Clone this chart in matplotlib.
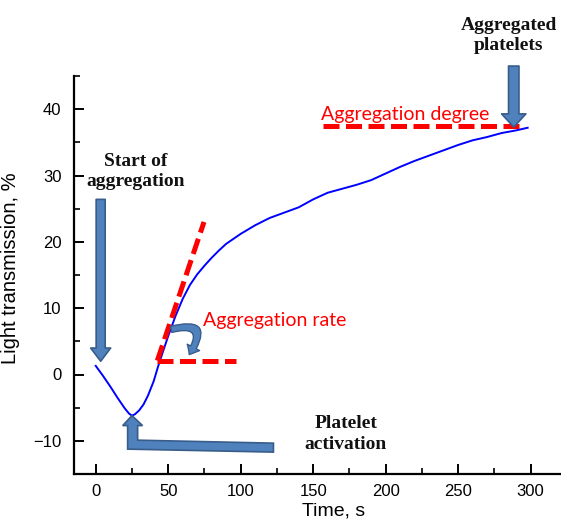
import numpy as np
import matplotlib
matplotlib.use("Agg")
import matplotlib.pyplot as plt
from matplotlib.patches import FancyArrowPatch, Polygon

# Aggregation curve (time in s, light transmission in %)
time_s = [0, 5, 10, 15, 20, 23, 25, 27, 30, 33, 36, 40, 43, 46, 50, 55, 60,
          65, 70, 75, 80, 85, 90, 100, 110, 120, 130, 140, 150, 160, 170,
          180, 190, 200, 210, 220, 230, 240, 250, 260, 270, 280, 290, 298]
transmission = [1.3, -0.2, -1.8, -3.5, -5.1, -5.9, -6.2, -6.0, -5.4, -4.5,
                -3.2, -1.0, 1.2, 3.2, 5.8, 8.8, 11.4, 13.5, 15.1, 16.4, 17.6,
                18.7, 19.7, 21.2, 22.5, 23.6, 24.4, 25.2, 26.4, 27.4, 28.0,
                28.6, 29.3, 30.3, 31.3, 32.2, 33.0, 33.8, 34.6, 35.3, 35.8,
                36.4, 36.8, 37.2]

# Construction lines
rate_origin = (42.5, 2.1)
rate_tangent_end = (74.7, 23.0)
rate_base_end_x = 96.6
degree_level = 37.5
degree_span = (156.8, 292.5)

x_ticks = [0, 50, 100, 150, 200, 250, 300]
y_ticks = [-10, 0, 10, 20, 30, 40]

ARROW_FACE = "#4F81BD"
ARROW_EDGE = "#385D8A"
RED = "#FF0000"

fig = plt.figure(figsize=(5.61, 5.23), dpi=100)
ax = fig.add_axes([74 / 561, 49 / 523, 1 - 74 / 561, 398 / 523])

ax.plot(time_s, transmission, color="#0000FF", lw=1.4, zorder=3,
        solid_joinstyle="round")

ax.set_xlim(-15, 321)
ax.set_ylim(-15, 45)
ax.set_xticks(x_ticks)
ax.set_yticks(y_ticks)
ax.set_xticks(np.arange(25, 321, 50), minor=True)
ax.set_yticks(np.arange(-15, 46, 10), minor=True)
for s in ("top", "right"):
    ax.spines[s].set_visible(False)
for s in ("left", "bottom"):
    ax.spines[s].set_linewidth(1.6)
ax.tick_params(which="major", direction="in", length=7, width=1.4,
               labelsize=12, pad=7)
ax.tick_params(which="minor", direction="in", length=4, width=1.2)
ax.tick_params(axis="y", which="major", pad=9)
for lab in ax.get_xticklabels() + ax.get_yticklabels():
    lab.set_fontfamily("Liberation Sans")

ax.set_xlabel("Time, s", fontsize=14, family="Liberation Sans")
ax.set_ylabel("Light transmission, %", fontsize=14.5, family="Liberation Sans")
ax.xaxis.set_label_coords((334 - 74) / 487, -37 / 398)
ax.xaxis.label.set_va("center")
ax.yaxis.set_label_coords(-54 / 487, (474 - 268) / 398)

# Red dashed construction lines
dash = dict(color=RED, lw=3.6, linestyle=(0, (3.2, 1.3)),
            dash_capstyle="butt", zorder=4)
ax.plot([rate_origin[0], rate_tangent_end[0]],
        [rate_origin[1], rate_tangent_end[1]], **dash)
ax.plot([rate_origin[0], rate_base_end_x],
        [rate_origin[1], rate_origin[1]], **dash)
ax.plot(list(degree_span), [degree_level, degree_level], **dash)

# Straight block arrows
def block_arrow(start, end, tail, head_w, head_l):
    arr = FancyArrowPatch(
        start, end,
        arrowstyle=f"simple,head_length={head_l},head_width={head_w},"
                   f"tail_width={tail}",
        mutation_scale=1, shrinkA=0, shrinkB=0,
        facecolor=ARROW_FACE, edgecolor=ARROW_EDGE, lw=1.2,
        clip_on=False, zorder=5)
    ax.add_patch(arr)

block_arrow((3.4, 26.4), (3.4, 2.0), 6.5, 14.4, 9.5)
block_arrow((288.4, 46.5), (288.4, 37.3), 7.5, 17.5, 9.5)

# Bent arrow pointing to the curve minimum (platelet activation)
i_min = int(np.argmin(transmission))
tx, ty = time_s[i_min], transmission[i_min]
bent = [
    (tx, ty),
    (tx + 7.3, ty - 1.5),
    (tx + 3.9, ty - 1.5),
    (tx + 3.9, ty - 3.7),
    (122.6, ty - 4.15),
    (122.6, ty - 5.5),
    (tx - 3.0, ty - 5.05),
    (tx - 3.0, ty - 1.5),
    (tx - 6.4, ty - 1.5),
]
ax.add_patch(Polygon(bent, closed=True, facecolor=ARROW_FACE,
                     edgecolor=ARROW_EDGE, lw=1.2, zorder=5))

# Curved arrow marking the aggregation-rate angle
curl = FancyArrowPatch(
    (52.0, 6.8), (64.5, 3.0),
    connectionstyle="arc3,rad=-1.25",
    arrowstyle="simple,head_length=6,head_width=10,tail_width=4.5",
    mutation_scale=1, shrinkA=0, shrinkB=0,
    facecolor=ARROW_FACE, edgecolor=ARROW_EDGE, lw=1.0, zorder=5)
ax.add_patch(curl)

# Annotation texts
serif = dict(family="Liberation Serif", fontweight="bold", fontsize=14,
             ha="center", va="center", linespacing=1.3, color="#111111")
ax.text(27.8, 30.6, "Start of\naggregation", **serif)
ax.text(285.0, 51.1, "Aggregated\nplatelets", clip_on=False, **serif)
ax.text(172.4, -8.95, "Platelet\nactivation", **serif)

ax.text(73.9, 8.1, "Aggregation rate", color=RED, fontsize=14,
        family="Lato", ha="left", va="center")
ax.text(155.7, 39.2, "Aggregation degree", color=RED, fontsize=14,
        family="Lato", ha="left", va="center")

fig.savefig("out.png", dpi=100)
